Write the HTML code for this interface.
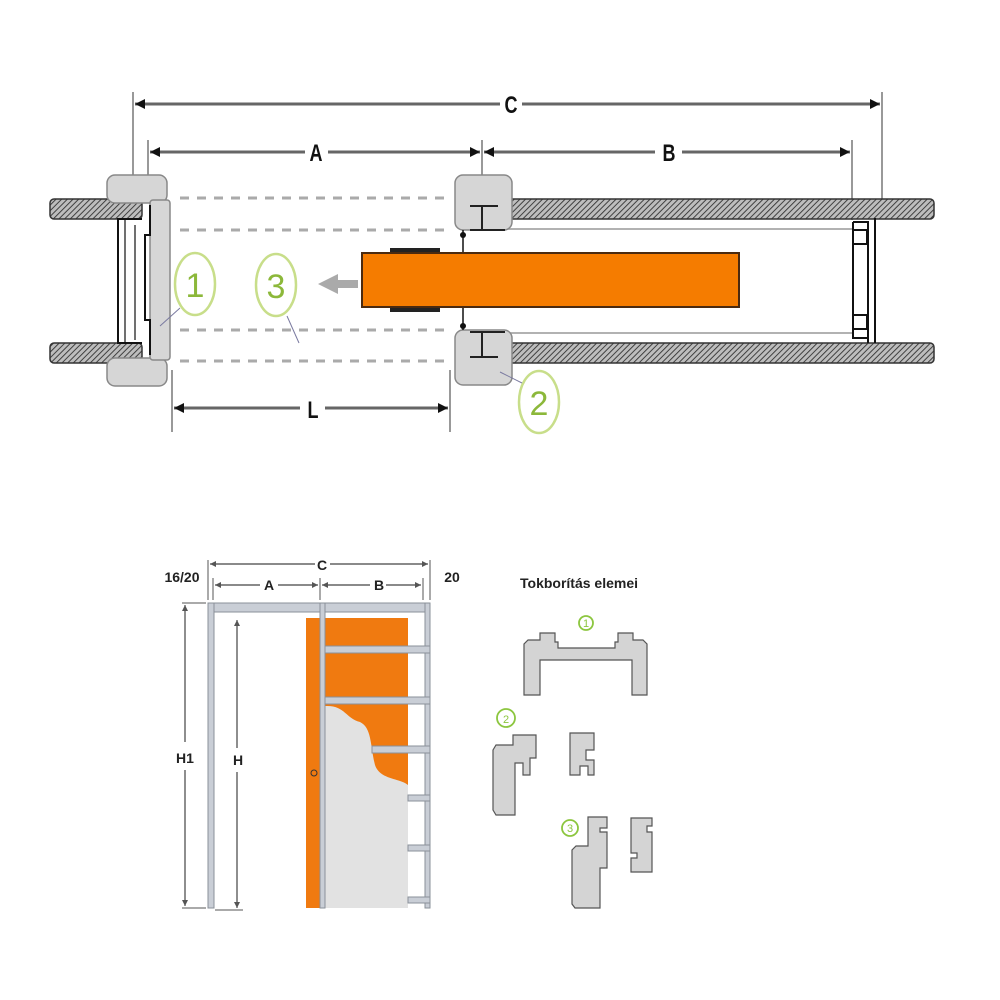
<!DOCTYPE html>
<html><head><meta charset="utf-8"><style>
html,body{margin:0;padding:0;background:#fff;}
svg{display:block}
text{font-family:"Liberation Sans",sans-serif;}
</style></head><body>
<svg width="1000" height="1000" viewBox="0 0 1000 1000" xmlns="http://www.w3.org/2000/svg">
<defs>
<pattern id="hatch" width="4" height="4" patternUnits="userSpaceOnUse" patternTransform="rotate(45)">
<rect width="4" height="4" fill="#bdbdbd"/><line x1="0" y1="0" x2="0" y2="4" stroke="#333" stroke-width="1.8"/>
</pattern>
<marker id="ar" viewBox="0 0 10 10" refX="10" refY="5" markerWidth="10" markerHeight="10" orient="auto-start-reverse" markerUnits="userSpaceOnUse"><path d="M0,0 L10,5 L0,10 z" fill="#111"/></marker>
<marker id="as" viewBox="0 0 10 10" refX="10" refY="5" markerWidth="6" markerHeight="6" orient="auto-start-reverse" markerUnits="userSpaceOnUse"><path d="M0,0 L10,5 L0,10 z" fill="#555"/></marker>
</defs>

<!-- TOP DIAGRAM -->
<g stroke="#333" stroke-width="1">
<line x1="133" y1="92" x2="133" y2="200"/>
<line x1="882" y1="92" x2="882" y2="200"/>
<line x1="148" y1="140" x2="148" y2="200"/>
<line x1="482" y1="140" x2="482" y2="200"/>
<line x1="852" y1="140" x2="852" y2="220"/>
<line x1="172" y1="370" x2="172" y2="432"/>
<line x1="450" y1="370" x2="450" y2="432"/>
</g>
<g stroke="#666" stroke-width="3">
<line x1="135" y1="104" x2="500" y2="104" marker-start="url(#ar)"/>
<line x1="522" y1="104" x2="880" y2="104" marker-end="url(#ar)"/>
<line x1="150" y1="152" x2="305" y2="152" marker-start="url(#ar)"/>
<line x1="328" y1="152" x2="480" y2="152" marker-end="url(#ar)"/>
<line x1="484" y1="152" x2="655" y2="152" marker-start="url(#ar)"/>
<line x1="682" y1="152" x2="850" y2="152" marker-end="url(#ar)"/>
<line x1="174" y1="408" x2="300" y2="408" marker-start="url(#ar)"/>
<line x1="325" y1="408" x2="448" y2="408" marker-end="url(#ar)"/>
</g>
<g font-size="24" font-weight="bold" fill="#111" text-anchor="middle">
<text x="511" y="113" transform="translate(511 0) scale(0.75 1) translate(-511 0)">C</text>
<text x="316" y="161" transform="translate(316 0) scale(0.75 1) translate(-316 0)">A</text>
<text x="669" y="161" transform="translate(669 0) scale(0.75 1) translate(-669 0)">B</text>
<text x="313" y="418" transform="translate(313 0) scale(0.75 1) translate(-313 0)">L</text>
</g>

<!-- walls -->
<g stroke="#333" stroke-width="1.5" fill="url(#hatch)">
<rect x="50" y="199" width="92" height="20" rx="4"/>
<rect x="50" y="343" width="92" height="20" rx="4"/>
<rect x="496" y="199" width="438" height="20" rx="4"/>
<rect x="496" y="343" width="438" height="20" rx="4"/>
</g>
<g stroke="#999" stroke-width="1.5"><line x1="496" y1="229" x2="852" y2="229"/><line x1="496" y1="333" x2="852" y2="333"/></g>

<!-- dashed guides -->
<g stroke="#aaa" stroke-width="3" stroke-dasharray="9,8">
<line x1="180" y1="198" x2="450" y2="198"/>
<line x1="180" y1="230" x2="450" y2="230"/>
<line x1="180" y1="330" x2="450" y2="330"/>
<line x1="180" y1="361" x2="450" y2="361"/>
</g>

<!-- left frame -->
<g fill="#d6d6d6" stroke="#888" stroke-width="1.5">
<rect x="107" y="175" width="60" height="28" rx="8"/>
<rect x="107" y="358" width="60" height="28" rx="8"/>
<rect x="150" y="200" width="20" height="160" rx="3"/>
</g>
<path d="M142,219 L118,219 L118,343 L142,343 M150,205 L150,235 L145,235 L145,320 L150,320 L150,355" fill="none" stroke="#111" stroke-width="2"/>
<path d="M125,219 L125,343 M135,225 L135,340" fill="none" stroke="#111" stroke-width="1.2"/>

<!-- middle frame -->
<g fill="#d6d6d6" stroke="#888" stroke-width="1.5">
<rect x="455" y="175" width="57" height="55" rx="8"/>
<rect x="455" y="330" width="57" height="55" rx="8"/>
</g>
<path d="M470,206 L498,206 M470,230 L505,230 M470,332 L505,332 M470,357 L498,357 M482,206 L482,230 M482,332 L482,357" stroke="#222" stroke-width="2" fill="none"/>
<line x1="463" y1="230" x2="463" y2="330" stroke="#111" stroke-width="1.5"/>
<circle cx="463" cy="235" r="3" fill="#111"/><circle cx="463" cy="326" r="3" fill="#111"/>

<!-- door -->
<rect x="390" y="248" width="50" height="64" fill="#222"/>
<rect x="362" y="253" width="377" height="54" fill="#f57c00" stroke="#4a2a10" stroke-width="2"/>
<path d="M318,284 L338,274 L338,280 L358,280 L358,288 L338,288 L338,294 z" fill="#aaa"/>

<!-- right end frame -->
<g stroke="#111" stroke-width="2" fill="#fff">
<line x1="875" y1="218" x2="875" y2="343"/>
<path d="M853,222 L868,222 L868,343 M853,222 L853,338 L868,338"/>
<rect x="853" y="230" width="14" height="14"/>
<rect x="853" y="315" width="14" height="14"/>
</g>

<!-- callouts -->
<g fill="none" stroke="#c8de8a" stroke-width="2.5">
<ellipse cx="195" cy="284" rx="20" ry="31"/>
<ellipse cx="276" cy="285" rx="20" ry="31"/>
<ellipse cx="539" cy="402" rx="20" ry="31"/>
</g>
<g font-size="34" fill="#8cb83a" text-anchor="middle" font-family="Liberation Sans">
<text x="195" y="297">1</text><text x="276" y="298">3</text><text x="539" y="415">2</text>
</g>
<g stroke="#7a7aa0" stroke-width="1"><line x1="180" y1="308" x2="160" y2="326"/><line x1="287" y1="316" x2="299" y2="343"/><line x1="522" y1="383" x2="500" y2="372"/></g>

<!-- BOTTOM DIAGRAM -->
<g stroke="#555" stroke-width="1">
<line x1="208" y1="560" x2="208" y2="600"/>
<line x1="430" y1="560" x2="430" y2="600"/>
<line x1="213" y1="578" x2="213" y2="600"/>
<line x1="423" y1="578" x2="423" y2="600"/>
<line x1="320" y1="578" x2="320" y2="600"/>
<line x1="182" y1="603" x2="206" y2="603"/>
<line x1="182" y1="908" x2="206" y2="908"/>
<line x1="215" y1="910" x2="243" y2="910"/>
</g>
<g stroke="#444" stroke-width="1.2">
<line x1="210" y1="564" x2="315" y2="564" marker-start="url(#as)"/>
<line x1="330" y1="564" x2="428" y2="564" marker-end="url(#as)"/>
<line x1="215" y1="585" x2="260" y2="585" marker-start="url(#as)"/>
<line x1="278" y1="585" x2="318" y2="585" marker-end="url(#as)"/>
<line x1="322" y1="585" x2="370" y2="585" marker-start="url(#as)"/>
<line x1="386" y1="585" x2="421" y2="585" marker-end="url(#as)"/>
<line x1="185" y1="605" x2="185" y2="742" marker-start="url(#as)"/>
<line x1="185" y1="770" x2="185" y2="906" marker-end="url(#as)"/>
<line x1="237" y1="620" x2="237" y2="748" marker-start="url(#as)"/>
<line x1="237" y1="772" x2="237" y2="908" marker-end="url(#as)"/>
</g>
<g font-size="14" font-weight="bold" fill="#222" text-anchor="middle">
<text x="322" y="570">C</text>
<text x="269" y="590">A</text>
<text x="379" y="590">B</text>
<text x="182" y="582">16/20</text>
<text x="452" y="582">20</text>
<text x="185" y="763">H1</text>
<text x="238" y="765">H</text>
</g>

<!-- door in bottom -->
<rect x="306" y="618" width="16" height="290" fill="#f07a10"/>
<rect x="322" y="618" width="86" height="290" fill="#f07a10"/>
<path d="M325,706 C345,705 345,718 360,722 C372,728 370,745 375,765 C380,780 400,778 408,785 L408,908 L325,908 z" fill="#e2e2e2"/>
<circle cx="314" cy="773" r="3" fill="none" stroke="#333" stroke-width="1"/>
<g fill="#c9ced6" stroke="#8a9099" stroke-width="1">
<rect x="208" y="603" width="222" height="9"/>
<rect x="208" y="603" width="6" height="305"/>
<rect x="320" y="603" width="5" height="305"/>
<rect x="425" y="603" width="5" height="305"/>
<rect x="325" y="646" width="105" height="7"/>
<rect x="325" y="697" width="105" height="7"/>
<rect x="372" y="746" width="58" height="7"/>
<rect x="408" y="795" width="22" height="6"/>
<rect x="408" y="845" width="22" height="6"/>
<rect x="408" y="897" width="22" height="6"/>
</g>

<!-- profiles -->
<text x="520" y="588" font-size="14" font-weight="bold" fill="#222">Tokborítás elemei</text>
<g fill="none" stroke="#8cc63f" stroke-width="1.8">
<circle cx="586" cy="623" r="7"/><circle cx="506" cy="718" r="9"/><circle cx="570" cy="828" r="8"/>
</g>
<g font-size="11" fill="#8cc63f" text-anchor="middle"><text x="586" y="627">1</text><text x="506" y="723">2</text><text x="570" y="832">3</text></g>
<g fill="#d4d4d4" stroke="#555" stroke-width="1.2">
<path d="M528,640 L540,640 L540,633 L555,633 L555,642 L558,642 L558,648 L615,648 L615,642 L618,642 L618,633 L633,633 L633,640 L643,640 L647,644 L647,695 L632,695 L632,660 L540,660 L540,695 L524,695 L524,644 z"/>
<path d="M496,745 L513,745 L513,735 L536,735 L536,758 L530,758 L530,775 L523,775 L523,763 L515,763 L515,815 L496,815 L493,810 L493,750 z"/>
<path d="M570,733 L594,733 L594,750 L586,750 L586,760 L594,760 L594,775 L588,775 L588,766 L580,766 L580,775 L570,775 z"/>
<path d="M588,817 L607,817 L607,828 L600,828 L600,832 L607,832 L607,868 L600,868 L600,908 L575,908 L572,904 L572,850 L576,846 L588,846 z"/>
<path d="M631,818 L652,818 L652,826 L647,826 L647,832 L652,832 L652,872 L631,872 L631,858 L637,858 L637,853 L631,853 z"/>
</g>
</svg>
</body></html>
